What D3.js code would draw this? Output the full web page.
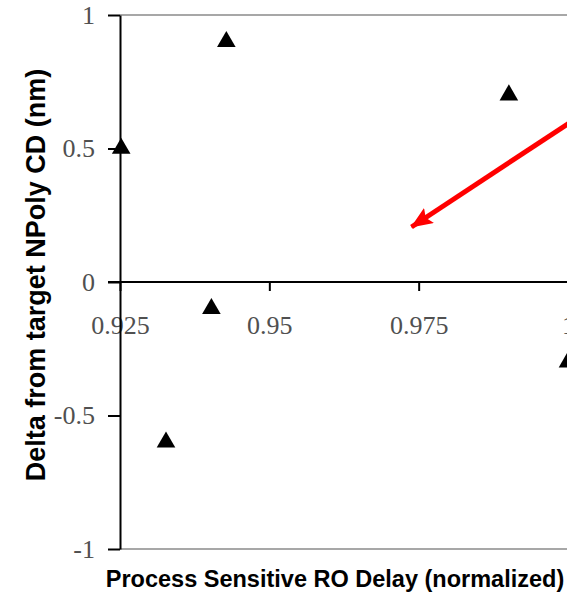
<!DOCTYPE html>
<html>
<head>
<meta charset="utf-8">
<script src="https://cdn.jsdelivr.net/npm/d3@7"></script>
<style>
  html, body { margin: 0; padding: 0; background: #fff; overflow: hidden; }
  svg { display: block; }
</style>
</head>
<body>
<svg id="chart" width="567" height="593"></svg>
<script>
// Measured samples: normalized ring-oscillator delay vs. poly CD offset
const roDelay = [0.9252, 0.9428, 0.9403, 0.9327, 0.9901, 1.0];
const cdDelta = [0.5, 0.9, -0.1, -0.6, 0.7, -0.3];

const xTicks = [0.925, 0.95, 0.975, 1];
const xTickLabels = ["0.925", "0.95", "0.975", "1"];
const yTicks = [-1, -0.5, 0, 0.5, 1];
const yTickLabels = ["-1", "-0.5", "0", "0.5", "1"];

// Callout arrow (from, to) in data units
const arrowFrom = [1.01, 0.74];
const arrowTo = [0.9738, 0.206];

const xTitle = "Process Sensitive RO Delay (normalized)";
const yTitle = "Delta from target NPoly CD (nm)";

const svg = d3.select("#chart");

const x = d3.scaleLinear().domain([0.925, 1.0]).range([120, 568]);
const y = d3.scaleLinear().domain([-1, 1]).range([549, 15]);

const serif = "'Liberation Serif', 'Times New Roman', serif";
const sans = "'Liberation Sans', Arial, sans-serif";

// Plot frame top and bottom edges
svg.selectAll("line.frame")
  .data([1, -1])
  .enter().append("line")
  .attr("class", "frame")
  .attr("x1", x(0.925)).attr("x2", x(1.0) + 20)
  .attr("y1", d => y(d)).attr("y2", d => y(d))
  .attr("stroke", "#8a8a8a").attr("stroke-width", 1.6);

// Horizontal axis sits on the zero line
const xAxis = d3.axisBottom(x)
  .tickValues(xTicks)
  .tickFormat((d, i) => xTickLabels[i])
  .tickSizeInner(9)
  .tickSizeOuter(0)
  .tickPadding(25);

const gx = svg.append("g")
  .attr("transform", `translate(0,${y(0)})`)
  .call(xAxis);
gx.select(".domain").attr("stroke", "#000").attr("stroke-width", 2)
  .attr("d", `M${x(0.925) - 12},0H${x(1.0) + 20}`);
gx.selectAll(".tick line").attr("stroke", "#000").attr("stroke-width", 2);
gx.selectAll(".tick text")
  .attr("font-family", serif).attr("font-size", 26).attr("fill", "#505050");

// Vertical axis
const yAxis = d3.axisLeft(y)
  .tickValues(yTicks)
  .tickFormat((d, i) => yTickLabels[i])
  .tickSizeInner(12)
  .tickSizeOuter(0)
  .tickPadding(13);

const gy = svg.append("g")
  .attr("transform", `translate(${x(0.925)},0)`)
  .call(yAxis);
gy.select(".domain").attr("stroke", "#000").attr("stroke-width", 2);
gy.selectAll(".tick line").attr("stroke", "#000").attr("stroke-width", 2);
gy.selectAll(".tick text")
  .attr("font-family", serif).attr("font-size", 26).attr("fill", "#505050");

// Data markers
const tri = d3.symbol().type(d3.symbolTriangle).size(150);
svg.selectAll("path.pt")
  .data(roDelay.map((v, i) => [v, cdDelta[i]]))
  .enter().append("path")
  .attr("class", "pt")
  .attr("d", tri)
  .attr("transform", d => `translate(${x(d[0])},${y(d[1])})`)
  .attr("fill", "#000");

// Red callout arrow
const defs = svg.append("defs");
defs.append("marker")
  .attr("id", "arrowhead")
  .attr("viewBox", "0 0 22 18")
  .attr("refX", 21).attr("refY", 9)
  .attr("markerWidth", 22).attr("markerHeight", 18)
  .attr("markerUnits", "userSpaceOnUse")
  .attr("orient", "auto")
  .append("path")
  .attr("d", "M0,0L22,9L0,18L4,9z")
  .attr("fill", "#ff0000");

svg.append("line")
  .attr("x1", x(arrowFrom[0])).attr("y1", y(arrowFrom[1]))
  .attr("x2", x(arrowTo[0])).attr("y2", y(arrowTo[1]))
  .attr("stroke", "#ff0000").attr("stroke-width", 5)
  .attr("marker-end", "url(#arrowhead)");

// Axis titles
svg.append("text")
  .attr("x", 335).attr("y", 587)
  .attr("text-anchor", "middle")
  .attr("font-family", sans).attr("font-weight", "bold").attr("font-size", 23.5)
  .attr("fill", "#000")
  .text(xTitle);

svg.append("text")
  .attr("transform", "translate(45,275) rotate(-90)")
  .attr("text-anchor", "middle")
  .attr("font-family", sans).attr("font-weight", "bold").attr("font-size", 27)
  .attr("fill", "#000")
  .text(yTitle);
</script>
</body>
</html>
